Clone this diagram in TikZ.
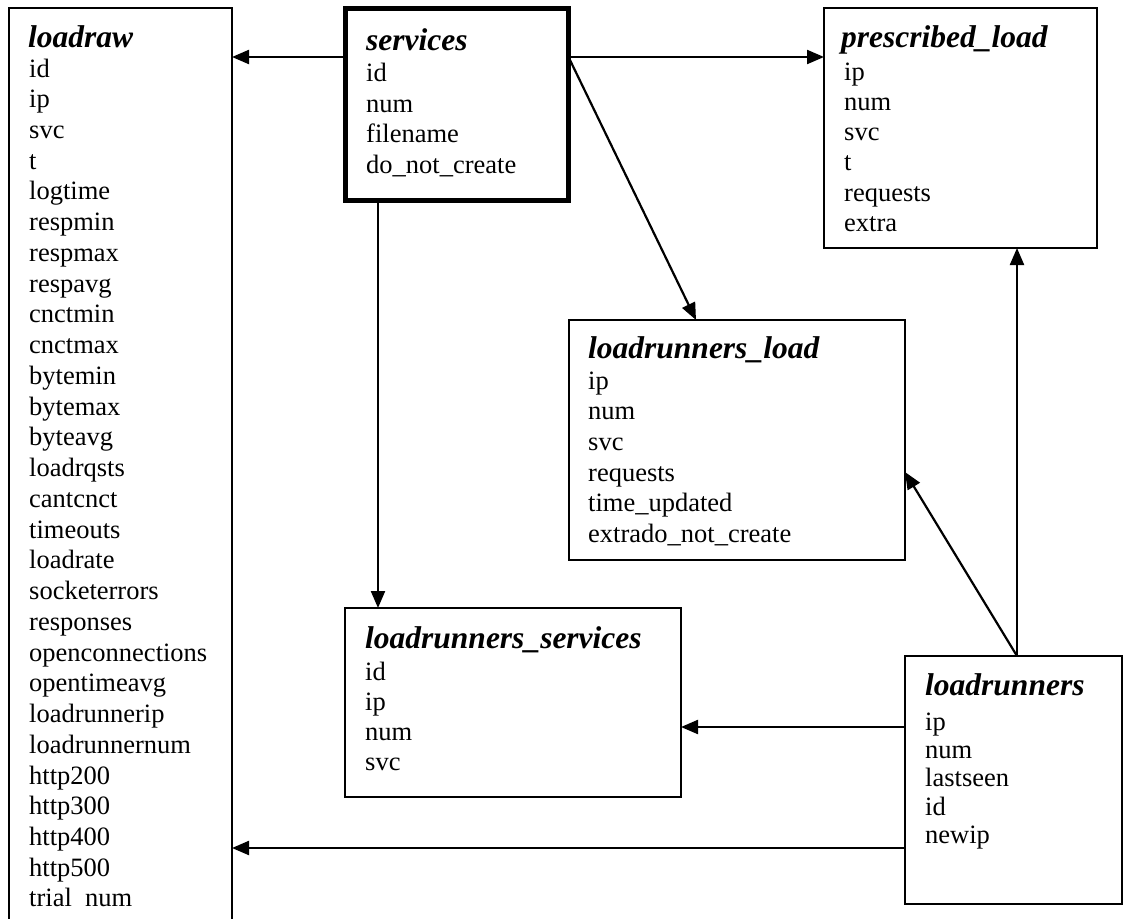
\documentclass[tikz,border=0pt]{standalone}
\usepackage{fontspec}
\setmainfont{Liberation Serif}
\usetikzlibrary{arrows.meta}

\begin{document}
\begin{tikzpicture}[x=1pt,y=-1pt,
  tbl/.style={draw, line width=2.2pt, rectangle, inner sep=0pt, outer sep=0pt, anchor=north west},
  keytbl/.style={tbl, line width=5pt},
  ttl/.style={anchor=base west, inner sep=0pt, font=\fontsize{31.5}{36}\selectfont\bfseries\itshape},
  fld/.style={anchor=base west, inner sep=0pt, font=\fontsize{26.5}{30}\selectfont},
  link/.style={line width=2.2pt, -{Triangle[length=17pt,width=14pt]}},
]
\clip (0,0) rectangle (1124,918);

% table frames
\node[tbl, minimum width=223pt, minimum height=940pt] (loadraw) at (9,8) {};
\node[keytbl, minimum width=223.5pt, minimum height=191.5pt] (services) at (345,8.5) {};
\node[tbl, minimum width=273pt, minimum height=240pt] (prescribed) at (824,8) {};
\node[tbl, minimum width=336pt, minimum height=240pt] (lrload) at (569,320) {};
\node[tbl, minimum width=336pt, minimum height=189pt] (lrsvc) at (345,608) {};
\node[tbl, minimum width=217pt, minimum height=248pt] (lr) at (905,656) {};

% loadraw
\node[ttl] (loadraw-t) at (28,47) {loadraw};
\foreach \f [count=\i] in {id,ip,svc,t,logtime,respmin,respmax,respavg,cnctmin,cnctmax,
  bytemin,bytemax,byteavg,loadrqsts,cantcnct,timeouts,loadrate,socketerrors,responses,
  openconnections,opentimeavg,loadrunnerip,loadrunnernum,http200,http300,http400,http500,
  {trial\hspace{0.5em}num}}
  \node[fld] (loadraw-\i) at (29,{77+30.74*(\i-1)}) {\f};

% services
\node[ttl] (services-t) at (366,50) {services};
\foreach \f [count=\i] in {id,num,filename,do\_not\_create}
  \node[fld] (services-\i) at (366,{81.5+30.5*(\i-1)}) {\f};

% prescribed_load
\node[ttl] (prescribed-t) at (841,47) {prescribed\_load};
\foreach \f [count=\i] in {ip,num,svc,t,requests,extra}
  \node[fld] (prescribed-\i) at (844,{80+30.3*(\i-1)}) {\f};

% loadrunners_load
\node[ttl] (lrload-t) at (588,358) {loadrunners\_load};
\foreach \f [count=\i] in {ip,num,svc,requests,time\_updated,extrado\_not\_create}
  \node[fld] (lrload-\i) at (588,{389+30.7*(\i-1)}) {\f};

% loadrunners_services
\node[ttl] (lrsvc-t) at (365,648) {loadrunners\_services};
\foreach \f [count=\i] in {id,ip,num,svc}
  \node[fld] (lrsvc-\i) at (365,{680+30*(\i-1)}) {\f};

% loadrunners
\node[ttl] (lr-t) at (925,695) {loadrunners};
\foreach \f [count=\i] in {ip,num,lastseen,id,newip}
  \node[fld] (lr-\i) at (925,{730+28.4*(\i-1)}) {\f};

% routing guides
\coordinate (r1) at (0,57);
\coordinate (r2) at (0,727);
\coordinate (r3) at (0,848);
\coordinate (r4) at (0,472);
\coordinate (c1) at (378,0);
\coordinate (c2) at (1017,0);
\coordinate (c3) at (696,0);

% relations
\draw[link] (services.west |- r1) -- (loadraw.east |- r1);
\draw[link] (services.east |- r1) -- (prescribed.west |- r1);
\draw[link] (services.east |- r1) -- (c3 |- lrload.north);
\draw[link] (services.south -| c1) -- (lrsvc.north -| c1);
\draw[link] (lr.north -| c2) -- (prescribed.south -| c2);
\draw[link] (lr.north -| c2) -- (lrload.east |- r4);
\draw[link] (lr.west |- r2) -- (lrsvc.east |- r2);
\draw[link] (lr.west |- r3) -- (loadraw.east |- r3);
\end{tikzpicture}
\end{document}
